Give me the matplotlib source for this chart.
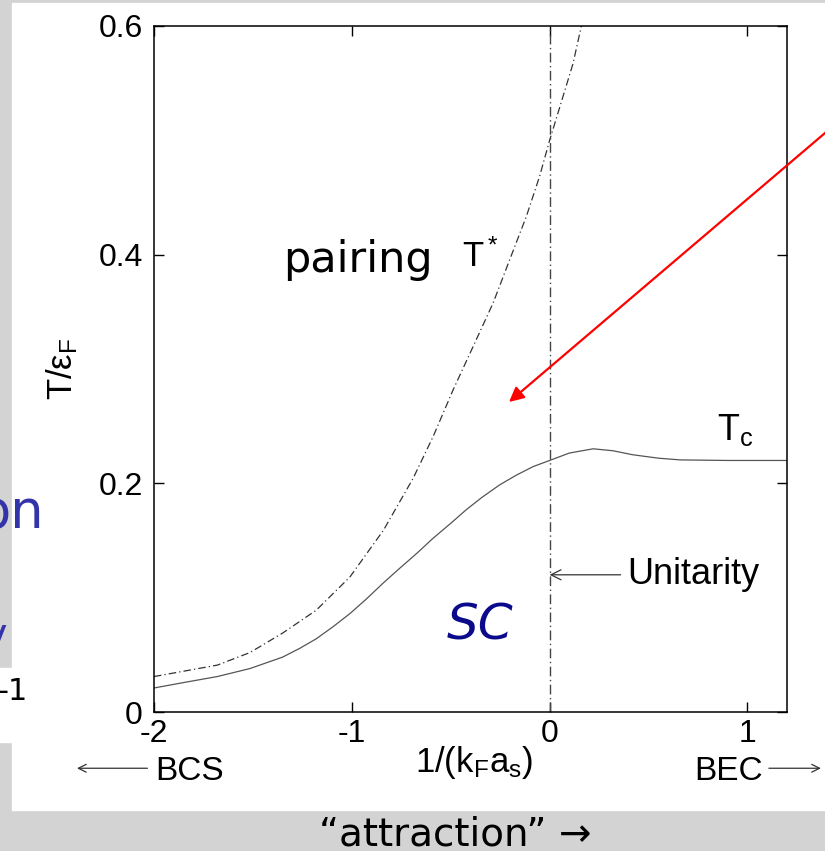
import matplotlib
matplotlib.use("Agg")
import matplotlib.pyplot as plt
from matplotlib.patches import Rectangle

# Tc (solid) and pairing temperature T* (dash-dot)
x_tc = [-2.0, -1.852, -1.68, -1.515, -1.35, -1.263, -1.18, -1.094, -1.01,
        -0.926, -0.84, -0.758, -0.67, -0.589, -0.5, -0.421, -0.34, -0.253,
        -0.17, -0.084, 0.0, 0.1, 0.22, 0.32, 0.42, 0.55, 0.66, 0.9, 1.2]
tc = [0.021, 0.0257, 0.031, 0.038, 0.048, 0.0557, 0.064, 0.0747, 0.086,
      0.0989, 0.113, 0.1257, 0.139, 0.152, 0.165, 0.177, 0.188, 0.1986,
      0.207, 0.2146, 0.220, 0.2265, 0.2302, 0.2285, 0.225, 0.222, 0.2205,
      0.220, 0.220]

x_tstar = [-2.0, -1.68, -1.515, -1.35, -1.18, -1.01, -0.84, -0.69, -0.589,
           -0.488, -0.387, -0.286, -0.202, -0.118, -0.051, 0.0, 0.067, 0.118,
           0.16, 0.17]
tstar = [0.031, 0.041, 0.052, 0.069, 0.089, 0.118, 0.159, 0.2044, 0.2409,
         0.2817, 0.3196, 0.3576, 0.3955, 0.4333, 0.4683, 0.5, 0.538, 0.567,
         0.5996, 0.607]

x_ticks = [-2, -1, 0, 1]
x_ticklabels = ["-2", "-1", "0", "1"]
y_ticks = [0, 0.2, 0.4, 0.6]
y_ticklabels = ["0", "0.2", "0.4", "0.6"]

plt.rcParams["font.family"] = ["Liberation Sans", "DejaVu Sans"]
plt.rcParams["mathtext.fontset"] = "custom"
plt.rcParams["mathtext.rm"] = "Liberation Sans"
plt.rcParams["mathtext.it"] = "Liberation Sans:italic"

W, H = 825, 851
fig = plt.figure(figsize=(W / 100, H / 100), dpi=100, facecolor="#d3d3d3")

def px(x, y):
    """pixel position (from top-left) -> figure fraction"""
    return x / W, 1 - y / H

# white slide panel, kept behind the axes
fig.patches.append(Rectangle(px(12, 810), (W - 12) / W, 807 / H,
                             transform=fig.transFigure, color="white", zorder=-10))
fig.patches.append(Rectangle(px(0, 742), 14 / W, 74 / H,
                             transform=fig.transFigure, color="white", zorder=-10))

ax = fig.add_axes([154 / W, 1 - 712 / H, 633 / W, 686 / H])
ax.set_zorder(1)
ax.set_xlim(-2, 1.2)
ax.set_ylim(0, 0.6)

ax.plot(x_tc, tc, color="#555555", lw=0.9)
ax.plot(x_tstar, tstar, color="#333333", lw=0.9, linestyle=(0, (6, 2.5, 1, 2.5)))
ax.axvline(0, color="#444444", lw=1.0, linestyle=(0, (7, 2.5, 1, 2.5)))

ax.set_xticks(x_ticks)
ax.set_xticklabels(x_ticklabels)
ax.set_yticks(y_ticks)
ax.set_yticklabels(y_ticklabels)
ax.tick_params(direction="in", length=7, width=1, top=True, right=True,
               labelsize=23)
ax.tick_params(axis="x", pad=5)
ax.tick_params(axis="y", pad=8)
for s in ax.spines.values():
    s.set_linewidth(1.1)

# axis labels
ax.text(-0.145, 0.5, r"$\mathregular{T/\varepsilon_F}$", transform=ax.transAxes,
        rotation=90, ha="center", va="center", fontsize=25)
ax.text(0.5055, -0.073, r"$\mathregular{1/(k_Fa_s)}$", transform=ax.transAxes,
        ha="center", va="center", fontsize=25)

ax.text(0.002, -0.087, "BCS", transform=ax.transAxes, ha="left", va="center",
        fontsize=24)
ax.annotate("", xy=(-0.126, -0.082), xytext=(-0.006, -0.082),
            xycoords="axes fraction", annotation_clip=False,
            arrowprops=dict(arrowstyle="->", lw=0.9, color="#333333",
                            mutation_scale=14))
ax.text(0.962, -0.087, "BEC", transform=ax.transAxes, ha="right", va="center",
        fontsize=24)
ax.annotate("", xy=(1.058, -0.082), xytext=(0.967, -0.082),
            xycoords="axes fraction", annotation_clip=False,
            arrowprops=dict(arrowstyle="->", lw=0.9, color="#333333",
                            mutation_scale=14))

# curve labels
ax.text(0.848, 0.238, r"$\mathregular{T_c}$", ha="left", va="baseline", fontsize=26)
ax.text(-0.35, 0.398, r"$\mathregular{T^*}$", ha="center", va="center", fontsize=25)
ax.text(-0.97, 0.395, "pairing", ha="center", va="center", fontsize=31,
        family="DejaVu Sans")
ax.text(-0.354, 0.076, "SC", ha="center", va="center", fontsize=36,
        color="#0a0a8a", family="DejaVu Sans", style="italic")

ax.annotate("Unitarity", xy=(0.0, 0.12), xytext=(0.394, 0.12),
            ha="left", va="center", fontsize=26,
            arrowprops=dict(arrowstyle="->", lw=0.9, color="#333333",
                            mutation_scale=18, shrinkA=3, shrinkB=0))

# red arrow coming in from the right edge
ax.annotate("", xy=px(509, 402), xytext=px(845, 116),
            xycoords="figure fraction", annotation_clip=False,
            arrowprops=dict(arrowstyle="-|>", lw=1.6, color="red",
                            mutation_scale=22, shrinkA=0, shrinkB=0))

# cut-off slide text on the left
fig.text(*px(44, 528), "on", ha="right", va="baseline", fontsize=38,
         color="#3333aa", family="DejaVu Sans")
fig.text(*px(7, 648), "y", ha="right", va="baseline", fontsize=30,
         color="#3333aa", family="DejaVu Sans")
fig.text(*px(28, 700), "-1", ha="right", va="baseline", fontsize=22,
         family="DejaVu Sans")

fig.text(*px(455, 834), "\u201cattraction\u201d \u2192", ha="center", va="center",
         fontsize=28, family="DejaVu Sans")

fig.savefig("out.png", dpi=100, facecolor=fig.get_facecolor())
